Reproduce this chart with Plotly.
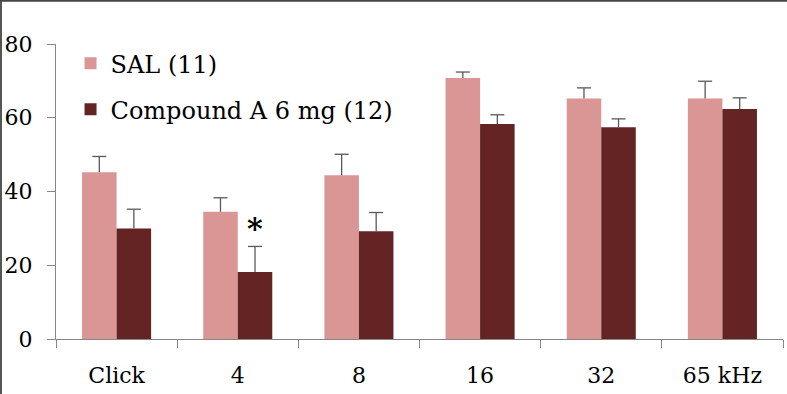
import plotly.graph_objects as go

categories = ["Click", "4", "8", "16", "32", "65 kHz"]
sal_values = [45.2, 34.5, 44.4, 70.8, 65.2, 65.2]
sal_err = [4.3, 3.8, 5.7, 1.6, 2.9, 4.7]
cmp_values = [30.0, 18.2, 29.2, 58.3, 57.4, 62.4]
cmp_err = [5.2, 6.9, 5.1, 2.5, 2.3, 3.0]
series_names = ["SAL (11)", "Compound A 6 mg (12)"]
y_ticks = [0, 20, 40, 60, 80]
sig_category = "4"

W, H = 787, 394
ML, MR, MT, MB = 56, 4, 44, 55
FONT = "DejaVu Serif"
GAP = 0.43
ERR_COLOR = "#595959"

fig = go.Figure()
for name, vals, color, grp in [(series_names[0], sal_values, "#D99694", "a"),
                               (series_names[1], cmp_values, "#632423", "b")]:
    fig.add_trace(go.Bar(
        x=categories, y=vals, name=name, offsetgroup=grp,
        marker=dict(color=color, line=dict(width=0)),
        legendgroup=grp,
    ))

# error bars: upward whisker with a cap only at the top
for vals, errs, grp in [(sal_values, sal_err, "a"), (cmp_values, cmp_err, "b")]:
    fig.add_trace(go.Scatter(
        x=categories, y=[v + e for v, e in zip(vals, errs)],
        mode="markers", offsetgroup=grp, showlegend=False, hoverinfo="skip",
        marker=dict(symbol="line-ew-open", size=10, color=ERR_COLOR,
                    line=dict(color=ERR_COLOR, width=1.3)),
        error_y=dict(type="data", array=[0]*len(errs), arrayminus=errs,
                     symmetric=False, color=ERR_COLOR, thickness=1.3, width=0),
    ))

i = categories.index(sig_category)
fig.add_annotation(
    x=i, y=cmp_values[i] + cmp_err[i], xref="x", yref="y",
    text="<b>*</b>", showarrow=False, xshift=17, yshift=-2, yanchor="bottom",
    font=dict(family=FONT, size=30, color="black"),
)

pw = W - ML - MR
ph = H - MT - MB
def px_x(p):
    return (p - ML) / pw
def px_y(p):
    return (H - MB - p) / ph

# figure frame (left and top edges)
fig.add_shape(type="line", xref="paper", yref="paper",
              x0=px_x(1), x1=px_x(1), y0=px_y(0), y1=px_y(H),
              line=dict(color="#555555", width=2))
fig.add_shape(type="line", xref="paper", yref="paper",
              x0=px_x(0), x1=px_x(W), y0=px_y(0.8), y1=px_y(0.8),
              line=dict(color="#444444", width=2))

fig.update_layout(
    width=W, height=H,
    margin=dict(l=ML, r=MR, t=MT, b=MB),
    paper_bgcolor="white", plot_bgcolor="white",
    barmode="group", bargap=GAP, bargroupgap=0,
    scattermode="group", scattergap=GAP,
    font=dict(family=FONT, size=22, color="black"),
    legend=dict(x=0.02, y=1.01, xanchor="left", yanchor="top",
                font=dict(family=FONT, size=24, color="black"),
                tracegroupgap=12, bgcolor="rgba(0,0,0,0)"),
    xaxis=dict(type="category", showline=True, linecolor="#868686", linewidth=1,
               ticks="outside", tickson="boundaries", ticklen=8,
               tickcolor="#868686", showgrid=False, ticklabelstandoff=17,
               tickfont=dict(family=FONT, size=22, color="black")),
    yaxis=dict(range=[0, 80], tickvals=y_ticks, showline=True,
               linecolor="#868686", linewidth=1, ticks="outside",
               ticklen=8, tickcolor="#868686", showgrid=False,
               zeroline=False, ticklabelstandoff=10,
               tickfont=dict(family=FONT, size=22, color="black")),
)

fig.write_html("out.html", config={"displayModeBar": False},
               post_script="document.body.style.margin='0';")
